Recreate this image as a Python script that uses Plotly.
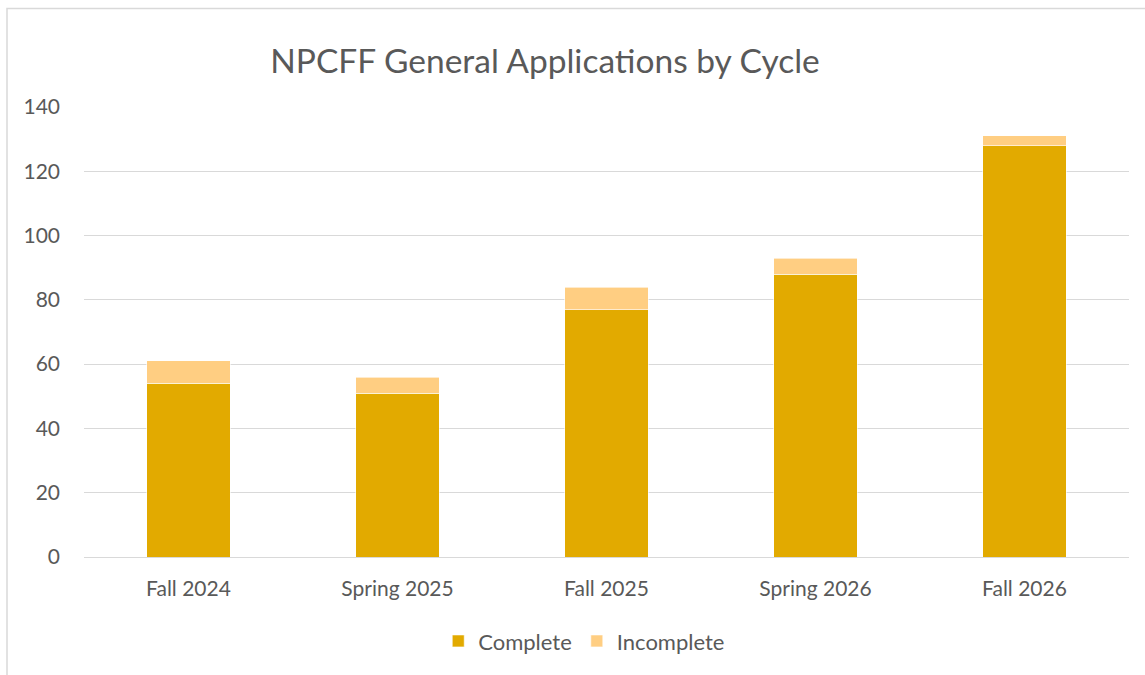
import plotly.graph_objects as go

categories = ["Fall 2024", "Spring 2025", "Fall 2025", "Spring 2026", "Fall 2026"]
complete = [54, 51, 77, 88, 128]
incomplete = [7, 5, 7, 5, 3]
y_ticks = [0, 20, 40, 60, 80, 100, 120, 140]

FONT = "Lato, 'Open Sans', sans-serif"
TXT = "#595959"

fig = go.Figure()
fig.add_trace(go.Bar(x=categories, y=complete, name="Complete",
                     marker=dict(color="#E2AA00", line=dict(color="rgba(255,255,255,0.6)", width=1))))
fig.add_trace(go.Bar(x=categories, y=incomplete, name="Incomplete",
                     marker=dict(color="#FFCE82", line=dict(color="rgba(255,255,255,0.6)", width=1))))

fig.update_layout(
    barmode="stack",
    bargap=0.6,
    width=1145, height=675,
    margin=dict(l=84, r=16, t=107, b=118),
    paper_bgcolor="white", plot_bgcolor="white",
    font=dict(family=FONT, color=TXT, size=21),
    title=dict(text="NPCFF General Applications by Cycle", x=0.476, xanchor="center",
               y=0.909, yanchor="middle", font=dict(size=33.5, color=TXT, family=FONT)),
    legend=dict(orientation="h", x=0.4787, xanchor="center", y=-0.187, yanchor="middle",
                font=dict(size=22, color=TXT), traceorder="normal"),
    showlegend=True,
)
fig.update_xaxes(showgrid=False, showline=True, linecolor="#D9D9D9", linewidth=1,
                 ticks="", ticklabelstandoff=13, tickfont=dict(size=21, color=TXT))
fig.update_yaxes(range=[0, 140], tickvals=y_ticks, showgrid=True, gridcolor="#D9D9D9",
                 gridwidth=1, zeroline=False, showline=False, ticks="",
                 ticklabelstandoff=23, tickfont=dict(size=21, color=TXT))

fig.add_shape(type="rect", xref="paper", yref="paper",
              x0=(7 - 84) / 1045, x1=(1160 - 84) / 1045,
              y0=(557 - 690) / 450, y1=(557 - 8.5) / 450,
              line=dict(color="#D9D9D9", width=1.5), fillcolor="rgba(0,0,0,0)", layer="below")

fig.write_html("out.html", config={"displayModeBar": False},
               post_script="document.body.style.margin='0';document.body.style.overflow='hidden';")
